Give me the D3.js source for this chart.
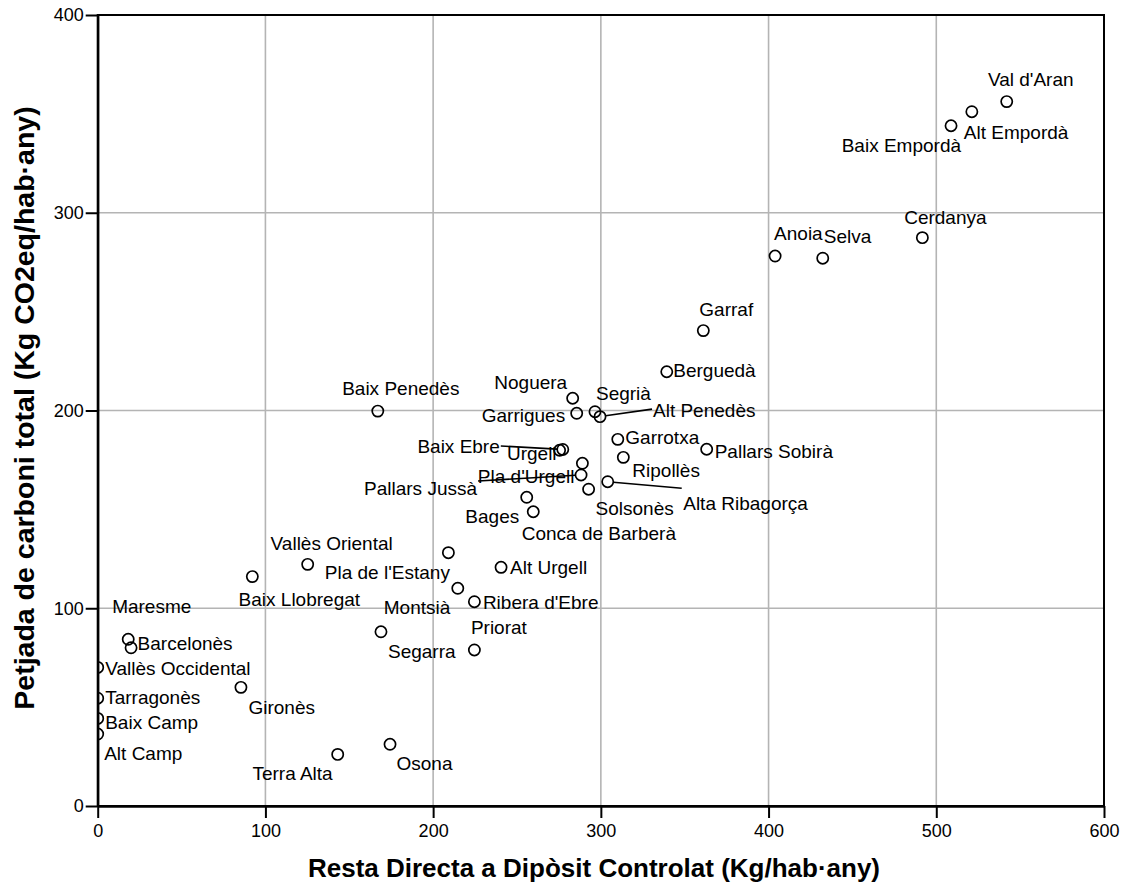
<!DOCTYPE html>
<html><head><meta charset="utf-8">
<script src="https://cdn.jsdelivr.net/npm/d3@7"></script>
<style>
body{margin:0;background:#fff}
text{font-family:"Liberation Sans",Arial,Helvetica,sans-serif;fill:#000}
</style>
</head><body>
<svg id="chart" width="1127" height="890"></svg>
<script>
// ---------- DATA ----------
const comarques = ["Val d'Aran","Alt Empordà","Baix Empordà","Cerdanya","Anoia","Selva","Garraf","Berguedà",
  "Noguera","Garrigues","Segrià","Alt Penedès","Baix Penedès","Garrotxa","Pallars Sobirà","Urgell","Baix Ebre",
  "Ripollès","Pla d'Urgell","Pallars Jussà","Solsonès","Alta Ribagorça","Bages","Conca de Barberà",
  "Vallès Oriental","Pla de l'Estany","Alt Urgell","Baix Llobregat","Montsià","Ribera d'Ebre","Priorat","Segarra",
  "Maresme","Barcelonès","Vallès Occidental","Tarragonès","Gironès","Baix Camp","Alt Camp","Terra Alta","Osona"];
const restaDirecta = [542.0,521.2,508.8,491.7,403.9,432.3,361.1,339.3,
  283.2,285.6,296.5,299.5,167.0,310.1,363.1,275.4,277.3,
  313.4,289.0,288.2,292.7,304.1,255.8,259.7,
  125.2,209.1,240.5,92.2,214.7,224.6,224.6,168.9,
  18.2,19.9,0,0,85.4,0,0,143.1,174.3];
const petjadaCarboni = [356.2,351.1,344.0,287.4,278.1,277.0,240.4,219.6,
  206.2,198.6,199.4,196.9,199.7,185.4,180.4,179.9,180.3,
  176.3,173.3,167.4,160.2,164.0,156.1,148.8,
  122.2,128.1,120.7,116.0,110.1,103.3,78.9,88.1,
  84.3,80.0,70.1,54.5,60.0,44.3,36.4,26.1,31.2];
const xTicks = [0,100,200,300,400,500,600];
const yTicks = [0,100,200,300,400];
const xTitle = "Resta Directa a Dipòsit Controlat (Kg/hab·any)";
const yTitle = "Petjada de carboni total (Kg CO2eq/hab·any)";

// ---------- LABEL PLACEMENT (pixel offsets from the point, text anchor, optional leader end) ----------
const labelPlacement = {
  "Val d'Aran":[24,-22,"middle"], "Alt Empordà":[-8,20,"start"], "Baix Empordà":[10,19,"end"],
  "Cerdanya":[23,-21,"middle"], "Anoia":[-1,-22.5,"start"], "Selva":[1,-22,"start"], "Garraf":[-4,-21.5,"start"],
  "Berguedà":[6.5,-1.5,"start"], "Noguera":[-5.5,-16.5,"end"], "Garrigues":[-11.5,1.5,"end"],
  "Segrià":[1,-18.5,"start"], "Alt Penedès":[53,-6.5,"start",[52,-7.5]], "Baix Penedès":[23,-22.5,"middle"],
  "Garrotxa":[7.5,-2.5,"start"], "Pallars Sobirà":[8,1.5,"start"], "Urgell":[-3,3,"end"],
  "Baix Ebre":[-63,-3,"end",[-62,-3.5]], "Ripollès":[9,12.5,"start"], "Pla d'Urgell":[-8,12.5,"end"],
  "Pallars Jussà":[-104,13.5,"end",[-103,6]], "Solsonès":[7,19,"start"],
  "Alta Ribagorça":[75.5,21,"start",[74,6.5]], "Bages":[-7.5,18.5,"end"], "Conca de Barberà":[-11.5,21.5,"start"],
  "Vallès Oriental":[24,-21.5,"middle"], "Pla de l'Estany":[1.5,19.5,"end"], "Alt Urgell":[9,0,"start"],
  "Baix Llobregat":[47,23,"middle"], "Montsià":[-7.5,19,"end"], "Ribera d'Ebre":[8.5,0,"start"],
  "Priorat":[-3.5,-23,"start"], "Segarra":[7,19.5,"start"], "Maresme":[23.5,-33.5,"middle"],
  "Barcelonès":[6.5,-4.5,"start"], "Vallès Occidental":[7.5,1,"start"], "Tarragonès":[7.5,-1,"start"],
  "Gironès":[7.5,19.5,"start"], "Baix Camp":[7.5,3.5,"start"], "Alt Camp":[6.5,19.5,"start"],
  "Terra Alta":[-5,19,"end"], "Osona":[6.5,19,"start"]
};

// ---------- LAYOUT ----------
const svg = d3.select("#chart");
const pLeft = 97.7, pRight = 1104, pTop = 15, pBottom = 806;
const x = d3.scaleLinear().domain([0,600]).range([pLeft,pRight]);
const y = d3.scaleLinear().domain([0,400]).range([pBottom,pTop]);
const labelSize = 19, tickFont = 18;

// grid
const grid = svg.append("g").attr("stroke","#b4b4b4").attr("stroke-width",1.6);
grid.selectAll("line.v").data(xTicks.filter(d=>d>0 && d<600)).join("line").attr("class","v")
  .attr("x1",d=>x(d)).attr("x2",d=>x(d)).attr("y1",pTop).attr("y2",pBottom);
grid.selectAll("line.h").data(yTicks.filter(d=>d>0 && d<400)).join("line").attr("class","h")
  .attr("y1",d=>y(d)).attr("y2",d=>y(d)).attr("x1",pLeft).attr("x2",pRight);

// frame
svg.append("rect").attr("x",pLeft).attr("y",pTop).attr("width",pRight-pLeft).attr("height",pBottom-pTop)
  .attr("fill","none").attr("stroke","#000").attr("stroke-width",2);

// axes
const xAxis = svg.append("g").attr("transform",`translate(0,${pBottom})`)
  .call(d3.axisBottom(x).tickValues(xTicks).tickSize(12).tickSizeOuter(0).tickPadding(6).tickFormat(d3.format("d")));
const yAxis = svg.append("g").attr("transform",`translate(${pLeft},0)`)
  .call(d3.axisLeft(y).tickValues(yTicks).tickSize(12).tickSizeOuter(0).tickPadding(2).tickFormat(d3.format("d")));
[xAxis,yAxis].forEach(a=>{
  a.select(".domain").attr("stroke","#000").attr("stroke-width",2.4);
  a.selectAll(".tick line").attr("stroke","#000").attr("stroke-width",2);
  a.selectAll(".tick text").attr("font-size",tickFont).attr("font-family",null).attr("fill","#000");
});

// clip for points
svg.append("clipPath").attr("id","plotclip").append("rect")
  .attr("x",pLeft).attr("y",pTop).attr("width",pRight-pLeft).attr("height",pBottom-pTop);

const pts = comarques.map((n,i)=>({name:n, vx:restaDirecta[i], vy:petjadaCarboni[i]}));
const r = 5.6;

// leader lines
const leaders = svg.append("g").attr("stroke","#000").attr("stroke-width",1.6);
pts.forEach(p=>{
  const lp = labelPlacement[p.name];
  if (lp && lp[3]) {
    const cx = x(p.vx), cy = y(p.vy);
    const ex = cx + lp[3][0], ey = cy + lp[3][1];
    const len = Math.hypot(lp[3][0], lp[3][1]);
    leaders.append("line")
      .attr("x1", cx + lp[3][0]/len*r).attr("y1", cy + lp[3][1]/len*r)
      .attr("x2", ex).attr("y2", ey);
  }
});

// points
svg.append("g").attr("clip-path","url(#plotclip)")
  .selectAll("circle").data(pts).join("circle")
  .attr("cx",d=>x(d.vx)).attr("cy",d=>y(d.vy)).attr("r",r)
  .attr("fill","none").attr("stroke","#000").attr("stroke-width",1.7);

// labels
svg.append("g").selectAll("text").data(pts).join("text")
  .attr("x",d=>x(d.vx)+labelPlacement[d.name][0])
  .attr("y",d=>y(d.vy)+labelPlacement[d.name][1]+labelSize*0.36)
  .attr("text-anchor",d=>labelPlacement[d.name][2])
  .attr("font-size",labelSize)
  .text(d=>d.name);

// axis titles
svg.append("text").attr("x",594).attr("y",877).attr("text-anchor","middle")
  .attr("font-size",26).attr("font-weight","bold").text(xTitle);
svg.append("text").attr("transform",`translate(34,408) rotate(-90)`)
  .attr("text-anchor","middle").attr("font-size",28.5).attr("font-weight","bold").text(yTitle);
</script>
</body></html>
